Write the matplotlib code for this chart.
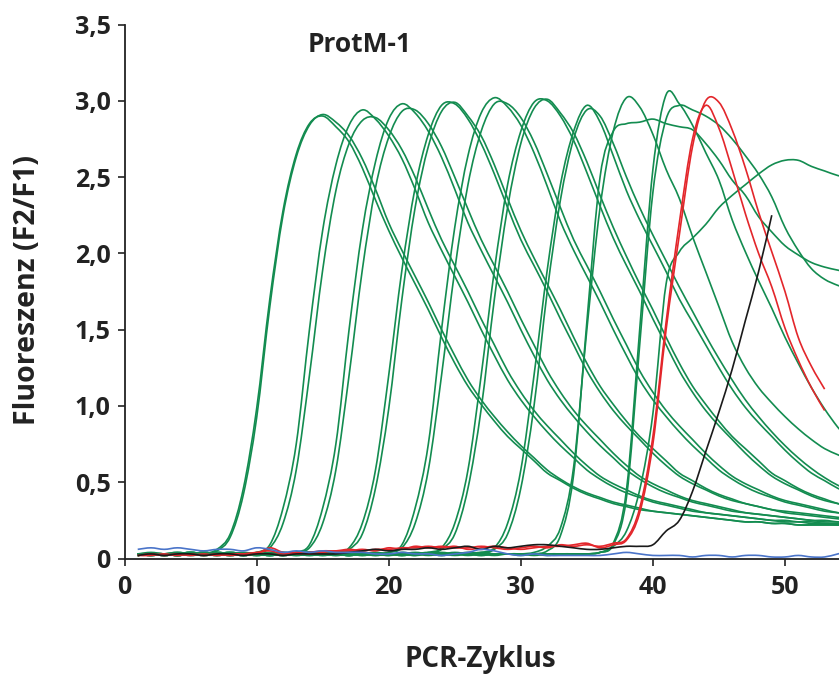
import matplotlib
matplotlib.use("Agg")
import matplotlib.pyplot as plt
from matplotlib.path import Path
from matplotlib.patches import PathPatch

# ---------------- data ----------------
cycles = list(range(1, 56))

green_A1 = [0.03,0.04,0.03,0.03,0.02, 0.03,0.06,0.16,0.46,0.98, 1.70,2.28,2.65,2.85,2.90, 2.83,2.73,2.56,2.35,2.15,
            1.97,1.80,1.63,1.45,1.28, 1.13,1.01,0.90,0.80,0.72, 0.64,0.56,0.51,0.46,0.42, 0.39,0.36,0.34,0.32,0.31,
            0.30,0.29,0.28,0.27,0.26, 0.25,0.24,0.24,0.23,0.23, 0.22,0.22,0.22,0.22,0.22]
green_A2 = [0.02,0.03,0.03,0.02,0.03, 0.03,0.05,0.14,0.42,0.92, 1.65,2.25,2.63,2.84,2.91, 2.86,2.77,2.62,2.42,2.20,
            2.02,1.85,1.68,1.50,1.33, 1.17,1.04,0.93,0.83,0.74, 0.66,0.58,0.52,0.47,0.43, 0.40,0.37,0.35,0.33,0.31,
            0.30,0.29,0.28,0.27,0.26, 0.25,0.24,0.24,0.23,0.23, 0.22,0.22,0.22,0.22,0.22]
green_B1 = [0.03,0.02,0.03,0.04,0.03, 0.02,0.03,0.03,0.03,0.04, 0.09,0.33,0.75,1.50,2.15, 2.58,2.84,2.94,2.88,2.77,
            2.62,2.42,2.20,2.02,1.85, 1.68,1.50,1.33,1.17,1.04, 0.93,0.83,0.74,0.66,0.58, 0.52,0.47,0.43,0.40,0.37,
            0.35,0.33,0.31,0.30,0.29, 0.28,0.27,0.26,0.25,0.24, 0.24,0.23,0.23,0.22,0.22]
green_B2 = [0.02,0.03,0.03,0.02,0.03, 0.04,0.03,0.02,0.03,0.04, 0.07,0.23,0.58,1.20,1.89, 2.41,2.72,2.87,2.89,2.81,
            2.68,2.50,2.29,2.09,1.92, 1.75,1.57,1.40,1.23,1.09, 0.97,0.87,0.78,0.69,0.61, 0.54,0.49,0.45,0.41,0.38,
            0.36,0.34,0.32,0.30,0.29, 0.28,0.27,0.26,0.25,0.25, 0.24,0.24,0.23,0.23,0.22]
green_C1 = [0.03,0.03,0.02,0.03,0.04, 0.03,0.02,0.03,0.03,0.02, 0.03,0.03,0.04,0.09,0.33, 0.75,1.50,2.15,2.60,2.88,
            2.98,2.92,2.80,2.63,2.42, 2.20,2.02,1.85,1.68,1.50, 1.33,1.17,1.04,0.93,0.83, 0.74,0.66,0.58,0.52,0.47,
            0.43,0.40,0.37,0.35,0.33, 0.31,0.30,0.29,0.28,0.27, 0.26,0.25,0.24,0.24,0.23]
green_C2 = [0.02,0.03,0.03,0.02,0.03, 0.03,0.04,0.03,0.02,0.03, 0.03,0.02,0.04,0.07,0.23, 0.58,1.20,1.89,2.43,2.76,
            2.93,2.94,2.85,2.70,2.50, 2.29,2.09,1.92,1.75,1.57, 1.40,1.23,1.09,0.97,0.87, 0.78,0.69,0.61,0.54,0.49,
            0.45,0.41,0.38,0.36,0.34, 0.32,0.30,0.29,0.28,0.27, 0.26,0.25,0.25,0.24,0.24]
green_D1 = [0.03,0.02,0.03,0.03,0.04, 0.03,0.03,0.02,0.03,0.03, 0.02,0.03,0.03,0.04,0.03, 0.04,0.07,0.23,0.58,1.20,
            1.89,2.43,2.78,2.97,2.98, 2.88,2.72,2.52,2.30,2.09, 1.92,1.75,1.57,1.40,1.23, 1.09,0.97,0.87,0.78,0.69,
            0.61,0.54,0.49,0.45,0.41, 0.38,0.36,0.34,0.32,0.30, 0.29,0.28,0.27,0.26,0.25]
green_D2 = [0.02,0.03,0.03,0.02,0.03, 0.04,0.03,0.03,0.02,0.03, 0.03,0.04,0.03,0.02,0.03, 0.03,0.06,0.16,0.46,0.98,
            1.70,2.30,2.70,2.93,2.99, 2.90,2.77,2.58,2.36,2.15, 1.97,1.80,1.63,1.45,1.28, 1.13,1.01,0.90,0.80,0.72,
            0.64,0.56,0.51,0.46,0.42, 0.39,0.36,0.34,0.32,0.31, 0.30,0.29,0.28,0.27,0.26]
green_E1 = [0.03,0.03,0.02,0.03,0.03, 0.02,0.03,0.04,0.03,0.03, 0.02,0.03,0.03,0.04,0.03, 0.03,0.02,0.03,0.03,0.04,
            0.09,0.33,0.75,1.50,2.17, 2.64,2.92,3.02,2.96,2.84, 2.66,2.44,2.21,2.02,1.85, 1.68,1.50,1.33,1.17,1.04,
            0.93,0.83,0.74,0.66,0.58, 0.52,0.47,0.43,0.40,0.37, 0.35,0.33,0.31,0.30,0.29]
green_E2 = [0.02,0.03,0.03,0.04,0.03, 0.03,0.02,0.03,0.03,0.02, 0.03,0.04,0.03,0.03,0.02, 0.03,0.03,0.02,0.03,0.04,
            0.07,0.23,0.58,1.20,1.89, 2.45,2.80,2.98,2.98,2.89, 2.73,2.52,2.30,2.09,1.92, 1.75,1.57,1.40,1.23,1.09,
            0.97,0.87,0.78,0.69,0.61, 0.54,0.49,0.45,0.41,0.38, 0.36,0.34,0.32,0.30,0.29]
green_F1 = [0.03,0.03,0.02,0.03,0.04, 0.03,0.02,0.03,0.03,0.03, 0.02,0.03,0.04,0.03,0.03, 0.02,0.03,0.03,0.04,0.03,
            0.03,0.02,0.04,0.07,0.23, 0.58,1.20,1.89,2.45,2.80, 2.99,3.00,2.90,2.74,2.53, 2.31,2.10,1.92,1.75,1.57,
            1.40,1.23,1.09,0.97,0.87, 0.78,0.69,0.61,0.54,0.49, 0.45,0.41,0.38,0.36,0.34]
green_F2 = [0.02,0.03,0.03,0.02,0.03, 0.04,0.03,0.03,0.02,0.03, 0.03,0.02,0.03,0.04,0.03, 0.03,0.02,0.03,0.03,0.02,
            0.04,0.03,0.03,0.06,0.16, 0.46,0.98,1.70,2.30,2.72, 2.95,3.01,2.92,2.79,2.60, 2.38,2.17,1.98,1.80,1.63,
            1.45,1.28,1.13,1.01,0.90, 0.80,0.72,0.64,0.56,0.51, 0.46,0.42,0.39,0.36,0.34]
green_G1 = [0.03,0.02,0.03,0.03,0.04, 0.03,0.03,0.02,0.03,0.03, 0.04,0.03,0.02,0.03,0.03, 0.03,0.02,0.04,0.03,0.03,
            0.02,0.03,0.03,0.03,0.02, 0.03,0.04,0.07,0.23,0.58, 1.20,1.89,2.45,2.80,2.97, 2.86,2.64,2.41,2.22,2.05,
            1.88,1.70,1.55,1.40,1.25, 1.11,0.99,0.89,0.80,0.71, 0.63,0.56,0.51,0.46,0.42]
green_G2 = [0.02,0.03,0.03,0.02,0.03, 0.03,0.04,0.03,0.02,0.03, 0.03,0.02,0.03,0.04,0.03, 0.02,0.03,0.03,0.02,0.03,
            0.03,0.04,0.03,0.02,0.03, 0.03,0.03,0.06,0.16,0.46, 1.00,1.75,2.35,2.75,2.94, 2.90,2.72,2.50,2.30,2.12,
            1.95,1.78,1.62,1.46,1.31, 1.17,1.04,0.93,0.83,0.74, 0.66,0.59,0.53,0.48,0.44]
green_H = [0.03,0.03,0.02,0.03,0.03, 0.04,0.03,0.02,0.03,0.03, 0.03,0.02,0.03,0.04,0.03, 0.03,0.02,0.03,0.03,0.03,
           0.02,0.03,0.04,0.03,0.03, 0.02,0.03,0.03,0.03,0.03, 0.04,0.08,0.20,0.60,1.50, 2.30,2.80,3.02,2.96,2.78,
           2.55,2.36,2.11,1.88,1.65, 1.42,1.25,1.12,1.02,0.93, 0.85,0.78,0.72,0.68,0.64]
green_I = [0.03,0.02,0.03,0.03,0.03, 0.02,0.03,0.04,0.03,0.03, 0.02,0.03,0.03,0.03,0.04, 0.03,0.02,0.03,0.03,0.03,
           0.02,0.03,0.03,0.04,0.03, 0.03,0.02,0.03,0.03,0.03, 0.03,0.05,0.15,0.55,1.55, 2.50,2.80,2.85,2.86,2.88,
           2.85,2.83,2.81,2.72,2.61, 2.48,2.38,2.24,2.14,2.05, 1.99,1.94,1.91,1.89,1.87]
green_J = [0.03,0.03,0.02,0.03,0.03, 0.03,0.04,0.03,0.02,0.03, 0.03,0.03,0.02,0.03,0.04, 0.03,0.03,0.02,0.03,0.03,
           0.03,0.02,0.03,0.03,0.04, 0.03,0.02,0.03,0.03,0.03, 0.02,0.03,0.03,0.03,0.03, 0.04,0.10,0.45,1.50,2.55,
           3.04,2.98,2.84,2.66,2.48, 2.22,2.01,1.82,1.64,1.45, 1.28,1.12,0.98,0.86,0.76]
green_K = [0.02,0.03,0.03,0.02,0.03, 0.03,0.03,0.04,0.03,0.02, 0.03,0.03,0.03,0.02,0.03, 0.04,0.03,0.03,0.02,0.03,
           0.03,0.03,0.02,0.03,0.03, 0.04,0.03,0.02,0.03,0.03, 0.03,0.02,0.03,0.03,0.03, 0.04,0.09,0.40,1.40,2.40,
           2.88,2.97,2.94,2.90,2.84, 2.75,2.64,2.52,2.37,2.17, 2.02,1.90,1.83,1.79,1.76]
green_L = [0.03,0.02,0.03,0.03,0.02, 0.03,0.03,0.03,0.04,0.03, 0.02,0.03,0.03,0.03,0.02, 0.03,0.04,0.03,0.03,0.02,
           0.03,0.03,0.03,0.02,0.03, 0.03,0.04,0.03,0.03,0.02, 0.03,0.03,0.03,0.03,0.03, 0.04,0.08,0.18,0.45,0.95,
           1.80,2.01,2.10,2.19,2.30, 2.38,2.45,2.52,2.58,2.61, 2.61,2.57,2.54,2.51,2.49]

red_1 = [0.02,0.03,0.02,0.03,0.02, 0.03,0.02,0.03,0.03,0.03, 0.07,0.04,0.03,0.04,0.05, 0.05,0.06,0.05,0.06,0.06,
         0.07,0.07,0.08,0.07,0.08, 0.06,0.07,0.08,0.07,0.06, 0.07,0.08,0.08,0.09,0.10, 0.07,0.09,0.12,0.30,0.75,
         1.50,2.12,2.70,3.00,2.99, 2.81,2.56,2.27,2.01,1.75, 1.45,1.26,1.11]
red_2 = [0.02,0.02,0.03,0.02,0.03, 0.02,0.03,0.02,0.03,0.04, 0.05,0.03,0.04,0.03,0.04, 0.05,0.05,0.06,0.05,0.07,
         0.06,0.08,0.07,0.08,0.07, 0.07,0.08,0.07,0.06,0.07, 0.08,0.07,0.09,0.08,0.09, 0.08,0.10,0.13,0.33,0.80,
         1.55,2.20,2.75,2.97,2.82, 2.55,2.26,2.00,1.78,1.51, 1.30,1.12,0.97]
black_1 = [0.02,0.03,0.02,0.03,0.03, 0.02,0.03,0.03,0.02,0.03, 0.03,0.02,0.03,0.03,0.03, 0.03,0.04,0.05,0.06,0.05,
           0.06,0.06,0.07,0.06,0.07, 0.08,0.06,0.08,0.07,0.08, 0.09,0.09,0.08,0.07,0.06, 0.06,0.07,0.08,0.08,0.09,
           0.18,0.25,0.44,0.70,0.96, 1.24,1.56,1.88,2.25]
blue_1 = [0.06,0.07,0.06,0.07,0.06, 0.05,0.06,0.06,0.05,0.07, 0.06,0.04,0.05,0.04,0.05, 0.04,0.04,0.04,0.03,0.03,
          0.04,0.03,0.03,0.02,0.03, 0.04,0.06,0.05,0.03,0.02, 0.03,0.02,0.02,0.02,0.02, 0.02,0.03,0.04,0.03,0.02,
          0.02,0.02,0.01,0.02,0.02, 0.01,0.02,0.02,0.01,0.01, 0.02,0.01,0.01,0.03,0.05]

green_curves = [green_A1, green_A2, green_B1, green_B2, green_C1, green_C2, green_D1, green_D2,
                green_E1, green_E2, green_F1, green_F2, green_G1, green_G2, green_H, green_I,
                green_J, green_K, green_L]
red_curves = [red_1, red_2]
black_curves = [black_1]
blue_curves = [blue_1]

x_ticks = [0, 10, 20, 30, 40, 50]
y_ticks = [0, 0.5, 1.0, 1.5, 2.0, 2.5, 3.0, 3.5]
y_tick_labels = ["0", "0,5", "1,0", "1,5", "2,0", "2,5", "3,0", "3,5"]
title_text = "ProtM-1"
x_label = "PCR-Zyklus"
y_label = "Fluoreszenz (F2/F1)"

# ---------------- style ----------------
GREEN = "#138c50"
RED = "#e3262b"
BLUE = "#4a74c9"
BLACK = "#1a1a1a"
TXT = "#222222"
FONT = "Open Sans"
LW = 1.2


def smooth_line(ax, xs, ys, color):
    """Draw the measured points joined by a smooth (Catmull-Rom style) curve."""
    n = len(xs)
    verts = [(xs[0], ys[0])]
    codes = [Path.MOVETO]
    for i in range(n - 1):
        x0, y0 = (xs[i - 1], ys[i - 1]) if i > 0 else (xs[i], ys[i])
        x1, y1 = xs[i], ys[i]
        x2, y2 = xs[i + 1], ys[i + 1]
        x3, y3 = (xs[i + 2], ys[i + 2]) if i + 2 < n else (x2, y2)
        c1 = (x1 + (x2 - x0) / 6.0, y1 + (y2 - y0) / 6.0)
        c2 = (x2 - (x3 - x1) / 6.0, y2 - (y3 - y1) / 6.0)
        verts += [c1, c2, (x2, y2)]
        codes += [Path.CURVE4] * 3
    ax.add_patch(PathPatch(Path(verts, codes), facecolor="none", edgecolor=color,
                           lw=LW, joinstyle="round", capstyle="butt"))


W, H = 839, 677
fig = plt.figure(figsize=(W / 100, H / 100), dpi=100)
ax = fig.add_axes([124.5 / W, 1 - 558.5 / H, 1 - 124.5 / W, (558.5 - 24.5) / H])

for ys in green_curves:
    smooth_line(ax, cycles[:len(ys)], ys, GREEN)
for ys in red_curves:
    smooth_line(ax, cycles[:len(ys)], ys, RED)
for ys in black_curves:
    smooth_line(ax, cycles[:len(ys)], ys, BLACK)
for ys in blue_curves:
    smooth_line(ax, cycles[:len(ys)], ys, BLUE)

ax.set_xlim(0, (W - 124.5) / 13.21)
ax.set_ylim(0, 3.5)
ax.set_xticks(x_ticks)
ax.set_yticks(y_ticks)
ax.set_yticklabels(y_tick_labels)
for s in ["top", "right"]:
    ax.spines[s].set_visible(False)
for s in ["left", "bottom"]:
    ax.spines[s].set_linewidth(1.3)
    ax.spines[s].set_color(TXT)
ax.tick_params(axis="both", direction="out", length=5, width=1.2, color=TXT,
               labelsize=18, pad=5)
ax.tick_params(axis="x", pad=7)
for lab in ax.get_xticklabels() + ax.get_yticklabels():
    lab.set_fontfamily(FONT)
    lab.set_fontweight("bold")
    lab.set_color(TXT)

fig.text(360 / W, 1 - 45 / H, title_text, ha="center", va="center",
         fontsize=19, fontweight="bold", family=FONT, color=TXT)
fig.text(480 / W, 1 - 660 / H, x_label, ha="center", va="center",
         fontsize=20, fontweight="bold", family=FONT, color=TXT)
fig.text(28 / W, 1 - 290 / H, y_label, ha="center", va="center", rotation=90,
         fontsize=20.5, fontweight="bold", family=FONT, color=TXT)

fig.savefig("out.png", dpi=100)
